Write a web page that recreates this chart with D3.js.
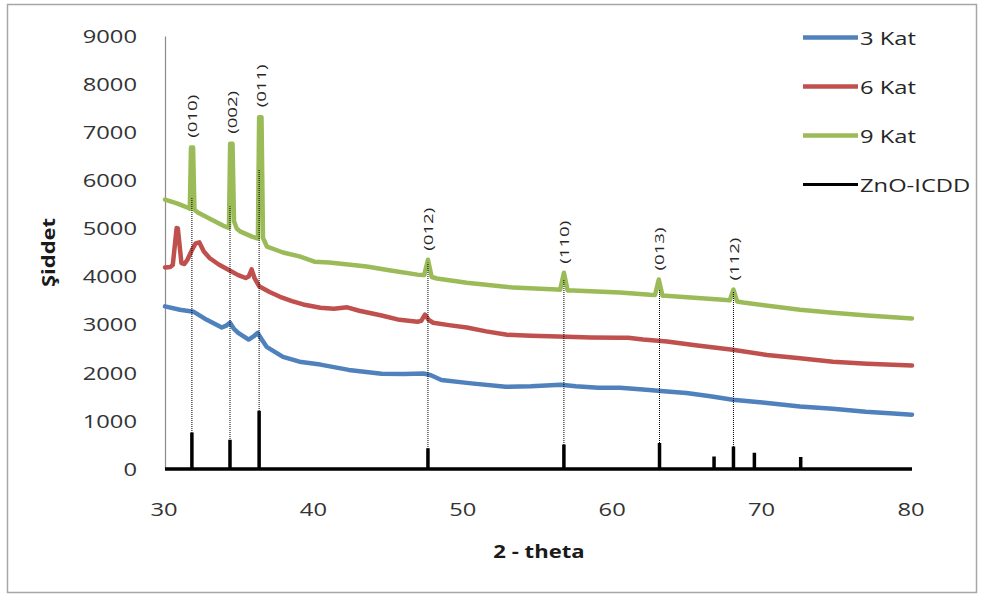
<!DOCTYPE html>
<html>
<head>
<meta charset="utf-8">
<script src="https://cdn.jsdelivr.net/npm/d3@7"></script>
<style>
  html, body { margin: 0; padding: 0; background: #fff; }
  svg { display: block; font-family: "Open Sans", "Noto Sans", sans-serif; }
</style>
</head>
<body>
<svg id="chart" width="990" height="597"></svg>
<script>
// ---- data -------------------------------------------------------------
const xTicks = [30, 40, 50, 60, 70, 80];
const yTicks = [0, 1000, 2000, 3000, 4000, 5000, 6000, 7000, 8000, 9000];

const seriesNames = ["3 Kat", "6 Kat", "9 Kat", "ZnO-ICDD"];

// [2-theta, intensity]
const kat3 = [[30,3380],[31.0,3310],[31.9,3270],[32.8,3100],[33.8,2940],[34.1,2980],[34.35,3040],
  [34.6,2920],[34.9,2830],[35.6,2690],[35.95,2760],[36.2,2830],[36.5,2680],[36.8,2540],[37.9,2330],
  [39.0,2230],[40.4,2170],[42.3,2060],[44.5,1980],[46.0,1975],[47.3,1985],[47.8,1950],[48.5,1850],
  [50.5,1780],[52.8,1710],[54.5,1720],[56.5,1750],[57.5,1720],[59.0,1690],[60.45,1690],[62.0,1650],
  [63.6,1610],[64.9,1580],[66.5,1510],[68.0,1440],[70.0,1380],[72.5,1300],[74.7,1250],[76.9,1190],
  [78.5,1160],[80,1130]];

const kat6 = [[30,4190],[30.35,4200],[30.52,4240],[30.78,5010],[30.86,5000],[31.1,4280],[31.3,4260],
  [31.5,4350],[31.8,4550],[32.05,4690],[32.3,4710],[32.6,4520],[33.0,4380],[33.6,4250],[34.3,4130],
  [34.9,4030],[35.4,3970],[35.6,4000],[35.8,4150],[36.0,3960],[36.3,3800],[37.0,3680],[37.7,3580],
  [38.5,3490],[39.25,3420],[40.4,3350],[41.3,3330],[42.2,3360],[43.0,3290],[44.5,3190],[45.7,3100],
  [46.9,3060],[47.15,3080],[47.4,3210],[47.65,3100],[47.95,3040],[49.0,2990],[50.2,2940],[51.5,2860],
  [52.9,2790],[54.5,2770],[56.9,2750],[58.5,2735],[60.45,2730],[61.0,2730],[62.0,2690],[63.6,2650],
  [65.5,2570],[68.0,2480],[70.3,2370],[72.5,2300],[74.7,2230],[77.0,2190],[80,2150]];

const kat9 = [[30.0,5600],[30.8,5520],[31.47,5440],[31.66,5410],[31.74,6680],[31.88,6680],[31.97,5390],
  [32.2,5330],[33.0,5200],[33.88,5060],[34.28,5010],[34.36,6760],[34.52,6760],[34.62,5150],[34.8,5000],
  [35.02,4940],[35.82,4830],[36.22,4790],[36.3,7310],[36.46,7310],[36.56,4800],[36.83,4620],
  [37.9,4500],[39.0,4420],[40.0,4310],[41.0,4290],[43.5,4210],[45.0,4130],[46.9,4040],[47.35,4030],
  [47.6,4350],[47.85,3990],[48.2,3960],[50.2,3870],[53.3,3770],[56.24,3730],[56.45,3725],[56.7,4080],
  [56.95,3710],[57.3,3710],[60.45,3670],[62.46,3620],[62.8,3615],[63.05,3940],[63.3,3600],[63.5,3600],
  [67.35,3520],[67.8,3505],[68.05,3730],[68.3,3480],[68.7,3460],[72.5,3310],[74.7,3250],[77,3190],
  [80,3130]];

// ZnO reference pattern (stick positions and heights)
const icddPos = [31.8, 34.35, 36.3, 47.6, 56.7, 63.1, 66.75, 68.05, 69.45, 72.55];
const icddInt = [760, 610, 1210, 430, 510, 540, 260, 470, 340, 250];

// Miller indices marked on the 9 Kat pattern
const hkl      = ["(010)", "(002)", "(011)", "(012)", "(110)", "(013)", "(112)"];
const hklPeak  = [31.8, 34.45, 36.4, 47.6, 56.7, 63.05, 68.05];
const hklTop   = [6700, 6780, 7330, 4350, 4080, 3940, 3730];
const guideX   = [31.8, 34.35, 36.3, 47.6, 56.7, 63.1, 68.05];
const guideTop = [5650, 5460, 6230, 4290, 3940, 3730, 3690];

// ---- drawing ----------------------------------------------------------
const colors = ["#4f81bd", "#c0504d", "#9bbb59", "#000000"];
const stretch = 1.32;          // horizontal text widening used throughout

const svg = d3.select("#chart");
const x = d3.scaleLinear().domain([30, 80]).range([165, 912]);
const y = d3.scaleLinear().domain([0, 9000]).range([469, 36]);

// outer frame
svg.append("rect")
  .attr("x", 7.5).attr("y", 4.5).attr("width", 969).attr("height", 588)
  .attr("fill", "none").attr("stroke", "#a6a6a6").attr("stroke-width", 1.5);

// y axis
const yAxis = svg.append("g")
  .attr("transform", `translate(${x(30)},0)`)
  .call(d3.axisLeft(y).tickValues(yTicks).tickSize(0).tickFormat(d3.format("d")));
yAxis.select(".domain").attr("stroke", "#8c8c8c").attr("stroke-width", 1.2);
yAxis.selectAll("text")
  .attr("x", -28 / stretch).attr("dy", "0.35em")
  .attr("transform", `scale(${stretch},1)`)
  .attr("font-size", 18).attr("fill", "#333")
  .attr("font-family", "Open Sans, sans-serif");

// x axis labels (the axis line itself is the ZnO baseline)
const xAxis = svg.append("g")
  .attr("transform", `translate(0,${y(0)})`)
  .call(d3.axisBottom(x).tickValues(xTicks).tickSize(0).tickFormat(d3.format("d")));
xAxis.select(".domain").remove();
xAxis.selectAll("text")
  .attr("y", 41).attr("x", -1.5 / stretch).attr("dy", "0.35em")
  .attr("transform", `scale(${stretch},1)`)
  .attr("font-size", 18).attr("fill", "#333")
  .attr("font-family", "Open Sans, sans-serif");

// axis titles
svg.append("text")
  .attr("transform", `translate(539,552) scale(1.3,1)`)
  .attr("text-anchor", "middle").attr("dy", "0.35em")
  .attr("font-size", 17).attr("font-weight", "bold").attr("fill", "#1a1a1a")
  .text("2 - theta");
svg.append("text")
  .attr("transform", `translate(49,${(y(0) + y(9000)) / 2}) rotate(-90) scale(1.22,1)`)
  .attr("text-anchor", "middle").attr("dy", "0.35em")
  .attr("font-size", 18).attr("font-weight", "bold").attr("fill", "#1a1a1a")
  .text("Şiddet");

// measured patterns
const line = d3.line().x(d => x(d[0])).y(d => y(d[1]));
[kat3, kat6, kat9].forEach((s, i) => {
  svg.append("path")
    .attr("d", line(s))
    .attr("fill", "none")
    .attr("stroke", colors[i])
    .attr("stroke-width", 4.5)
    .attr("stroke-linejoin", "round")
    .attr("stroke-linecap", "round");
});

// ZnO reference sticks drawn as one line series along the zero level
const icdd = [[30, 0]];
icddPos.forEach((p, i) => { icdd.push([p, 0], [p, icddInt[i]], [p, 0]); });
icdd.push([80, 0]);
svg.append("path")
  .attr("d", line(icdd))
  .attr("fill", "none")
  .attr("stroke", colors[3])
  .attr("stroke-width", 3.5)
  .attr("stroke-linejoin", "bevel");

// dotted guides linking reference sticks to the indexed peaks
svg.append("g").selectAll("line")
  .data(guideX)
  .join("line")
  .attr("x1", d => x(d)).attr("x2", d => x(d))
  .attr("y1", y(0)).attr("y2", (d, i) => y(guideTop[i]))
  .attr("stroke", "#000").attr("stroke-width", 1)
  .attr("stroke-dasharray", "1,1");

// Miller index labels
svg.append("g").selectAll("text")
  .data(hkl)
  .join("text")
  .attr("transform", (d, i) =>
    `translate(${x(hklPeak[i]) + 0.5},${y(hklTop[i]) - 9}) rotate(-90) scale(1.38,1)`)
  .attr("dy", "0.35em")
  .attr("font-size", 13.5).attr("fill", "#262626")
  .text(d => d);

// legend
const legend = svg.append("g");
seriesNames.forEach((name, i) => {
  const ly = 37.5 + i * 49;
  legend.append("line")
    .attr("x1", 803).attr("x2", 858).attr("y1", ly).attr("y2", ly)
    .attr("stroke", colors[i]).attr("stroke-width", i === 3 ? 3 : 4.5);
  legend.append("text")
    .attr("transform", `translate(860,${ly + 1.5}) scale(${stretch},1)`)
    .attr("dy", "0.35em")
    .attr("font-size", 18).attr("fill", "#262626")
    .text(name);
});
</script>
</body>
</html>
